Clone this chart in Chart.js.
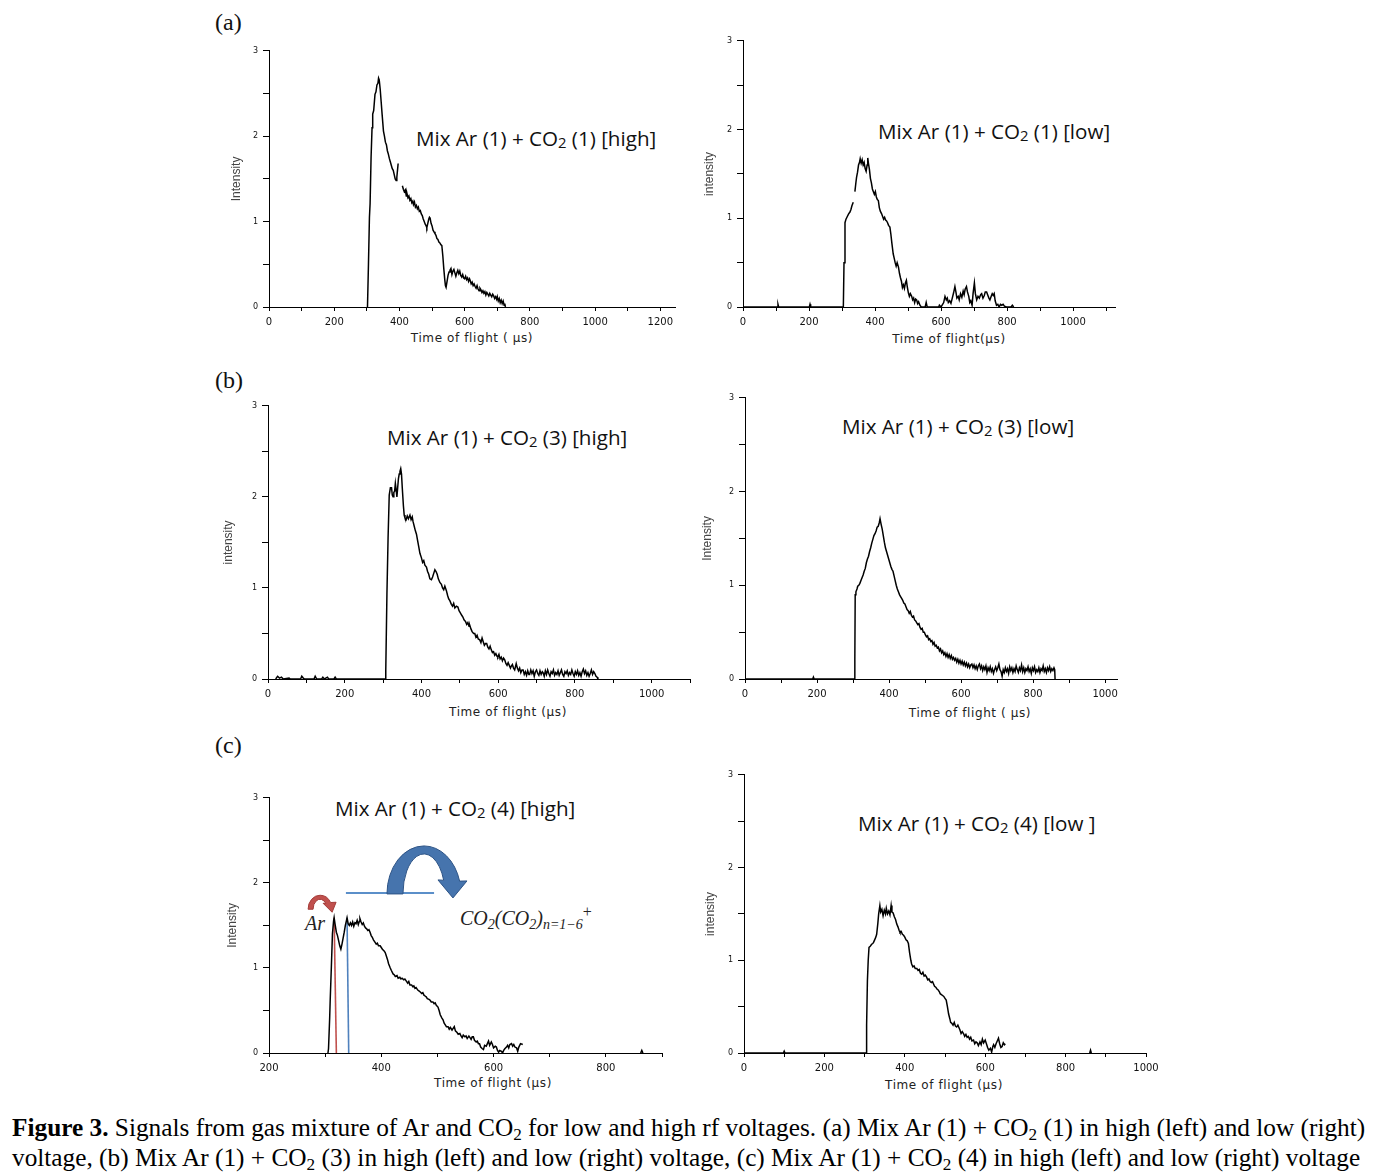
<!DOCTYPE html>
<html>
<head>
<meta charset="utf-8">
<script src="https://cdn.jsdelivr.net/npm/chart.js@4.4.1/dist/chart.umd.min.js"></script>
<style>
  body { margin: 0; background: #fff; }
  #page { position: relative; width: 1383px; height: 1176px; overflow: hidden; background: #fff; }
  .box { position: absolute; overflow: hidden; }
  .t { position: absolute; white-space: nowrap; line-height: 1; color: #111; }
  .mix { font-family: "Open Sans", "Noto Sans", sans-serif; font-size: 20.6px; }
  .mix sub { font-size: 0.72em; vertical-align: -0.15em; }
  .xt { font-family: "DejaVu Sans", sans-serif; font-size: 12px; color: #222; transform: translate(-50%, -50%); letter-spacing: 0.6px; }
  .lab { font-family: "Liberation Serif", serif; font-size: 24px; }
  .cap { font-family: "Liberation Serif", serif; font-size: 25.3px; color: #000; }
  .cap sub { font-size: 0.68em; vertical-align: -0.25em; }
  .math { font-family: "Liberation Serif", serif; font-style: italic; font-size: 20px; color: #222; }
  .math sub { font-size: 0.7em; vertical-align: -0.3em; }
  .math sup { font-size: 0.8em; font-style: normal; }
</style>
</head>
<body>
<div id="page">
  <div class="t lab" style="left:215px;top:10px;">(a)</div>
  <div class="t lab" style="left:215px;top:368px;">(b)</div>
  <div class="t lab" style="left:215px;top:733px;">(c)</div>

  <div class="t mix" style="left:416px;top:128px;">Mix Ar (1) + CO<sub>2</sub> (1) [high]</div>
  <div class="t mix" style="left:878px;top:121px;">Mix Ar (1) + CO<sub>2</sub> (1) [low]</div>
  <div class="t mix" style="left:387px;top:427px;">Mix Ar (1) + CO<sub>2</sub> (3) [high]</div>
  <div class="t mix" style="left:842px;top:416px;">Mix Ar (1) + CO<sub>2</sub> (3) [low]</div>
  <div class="t mix" style="left:335px;top:798px;">Mix Ar (1) + CO<sub>2</sub> (4) [high]</div>
  <div class="t mix" style="left:858px;top:813px;">Mix Ar (1) + CO<sub>2</sub> (4) [low ]</div>

  <div class="t xt" style="left:472px;top:338px;">Time of flight ( μs)</div>
  <div class="t xt" style="left:949px;top:339px;">Time of flight(μs)</div>
  <div class="t xt" style="left:508px;top:712px;">Time of flight (μs)</div>
  <div class="t xt" style="left:970px;top:713px;">Time of flight ( μs)</div>
  <div class="t xt" style="left:493px;top:1083px;">Time of flight (μs)</div>
  <div class="t xt" style="left:944px;top:1085px;">Time of flight (μs)</div>

  <div class="t math" style="left:305px;top:913px;">Ar</div>
  <div class="t math" style="left:460px;top:904px;">CO<sub>2</sub>(CO<sub>2</sub>)<sub>n=1−6</sub><sup>+</sup></div>

  <div class="t cap" style="left:12px;top:1115px;"><b>Figure 3.</b> Signals from gas mixture of Ar and CO<sub>2</sub> for low and high rf voltages. (a) Mix Ar (1) + CO<sub>2</sub> (1) in high (left) and low (right)</div>
  <div class="t cap" style="left:12px;top:1145px;">voltage, (b) Mix Ar (1) + CO<sub>2</sub> (3) in high (left) and low (right) voltage, (c) Mix Ar (1) + CO<sub>2</sub> (4) in high (left) and low (right) voltage</div>
</div>

<script>
// tick setup
const xTickStep = 100;
const xLabelStep = 200;
const yTickStep = 0.5;
const yLabelValues = [0, 1, 2, 3];

// (a) Ar(1)+CO2(1) high  [time us, intensity]
const sigA_high = [[302,0],[305,0.5],[308,1.05],[310,1.21],[313,1.75],[316,2.1],[318,2.26],[321,2.3],[325,2.49],[328,2.52],[331,2.6],[334,2.62],[336,2.68],[338,2.66],[341,2.55],[344,2.4],[347,2.25],[351,2.06],[354,2.0],[357,1.93],[360,1.9],[363,1.83],[366,1.79],[369,1.74],[372,1.7],[375,1.66],[378,1.62],[381,1.6],[384,1.55],[387,1.5],[390,1.48],[392,1.52],[394,1.6],[396,1.68],[400,null],
  [409,1.42],[412,1.38],[415,1.35],[418,1.37],[421,1.3],[423,1.33],[426,1.28],[429,1.3],[432,1.25],[435,1.27],[438,1.22],[441,1.24],[443,1.2],[446,1.23],[449,1.17],[452,1.19],[455,1.15],[458,1.17],[461,1.12],[464,1.13],[467,1.09],[470,1.07],[473,1.03],[476,1.0],[479,0.97],[482,0.95],[484,0.93],[487,0.98],[490,1.03],[492,1.05],[494,1.04],[497,0.98],[500,0.95],[503,0.9],[506,0.88],[509,0.86],[512,0.84],[515,0.8],[518,0.79],[521,0.76],[524,0.75],[527,0.73],[530,0.72],[533,0.6],[536,0.45],[539,0.32],[541,0.25],[543,0.23],[546,0.3],[549,0.37],[552,0.41],[555,0.43],[558,0.45],[561,0.38],[564,0.42],[567,0.44],[570,0.4],[573,0.36],[576,0.4],[579,0.43],[582,0.39],[585,0.42],[588,0.37],[591,0.35],[594,0.38],[597,0.34],[600,0.33],[603,0.36],[606,0.32],[609,0.34],[612,0.3],[615,0.33],[617,0.31],[620,0.27],[623,0.29],[626,0.25],[629,0.27],[632,0.24],[635,0.22],[638,0.25],[641,0.21],[644,0.19],[647,0.22],[650,0.2],[653,0.17],[656,0.19],[659,0.16],[662,0.18],[665,0.14],[668,0.17],[671,0.15],[674,0.13],[677,0.16],[680,0.14],[683,0.12],[686,0.15],[689,0.13],[692,0.1],[695,0.12],[698,0.09],[700,0.12],[703,0.07],[706,0.1],[709,0.05],[712,0.08],[715,0.04],[718,0.07],[721,0.02],[723,0.04],[725,0]];

// (a) Ar(1)+CO2(1) low
const sigA_low = [[0,0],[104,0],[106,0.03],[108,0],[201,0],[203,0.03],[205,0],[304,0],[306,0.5],[309,0.95],[312,0.99],[316,1.02],[320,1.05],[324,1.07],[327,1.1],[330,1.14],[334,1.18],[336,null],[339,1.3],[342,1.4],[344,1.46],[347,1.52],[350,1.6],[353,1.63],[355,1.67],[358,1.62],[361,1.66],[364,1.6],[367,1.63],[370,1.56],[373,1.53],[376,1.6],[378,1.68],[380,1.62],[383,1.55],[386,1.45],[389,1.4],[392,1.33],[395,1.3],[398,1.27],[401,1.3],[404,1.24],[407,1.21],[410,1.2],[413,1.12],[416,1.08],[420,1.05],[423,1.02],[426,0.99],[429,1.01],[432,0.98],[435,0.97],[438,0.95],[441,0.92],[445,0.9],[448,0.82],[451,0.72],[455,0.6],[458,0.55],[461,0.5],[464,0.46],[467,0.5],[471,0.45],[474,0.38],[477,0.33],[480,0.29],[483,0.22],[486,0.25],[489,0.21],[492,0.27],[495,0.3],[498,0.22],[501,0.16],[504,0.12],[507,0.15],[511,0.12],[514,0.08],[517,0.1],[520,0.05],[523,0.09],[526,0.08],[529,0.04],[532,0.06],[536,0.02],[540,0],[552,0],[555,0.05],[558,0],[593,0],[595,0.02],[600,0],[608,0.05],[612,0.12],[616,0.08],[619,0.1],[622,0.05],[626,0.07],[630,0.04],[634,0.1],[638,0.16],[642,0.23],[645,0.17],[648,0.1],[652,0.12],[655,0.08],[659,0.15],[663,0.11],[667,0.18],[670,0.14],[673,0.2],[677,0.23],[680,0.17],[684,0.12],[687,0.05],[690,0.07],[694,0.02],[697,0.15],[701,0.27],[704,0.15],[708,0.08],[712,0.12],[716,0.1],[720,0.14],[723,0.15],[727,0.1],[731,0.13],[734,0.17],[738,0.17],[742,0.13],[745,0.1],[748,0.08],[752,0.12],[755,0.15],[758,0.13],[761,0.15],[764,0.07],[768,0.02],[772,0.03],[776,0],[780,0.03],[784,0.02],[788,0.03],[792,0.01],[798,0],[812,0],[816,0.02],[820,0]];

// (b) Ar(1)+CO2(3) high
const sigB_high = [[20,0],[25,0.03],[30,0.01],[35,0.02],[40,0],[55,0.01],[58,0],[85,0],[88,0.03],[92,0.01],[95,0],[120,0],[123,0.03],[127,0],[140,0],[143,0.02],[147,0],[155,0.02],[158,0],[172,0],[175,0.02],[178,0],[305,0],[307,0.1],[310,0.93],[313,1.55],[316,2.02],[319,2.1],[322,2.1],[324,2.02],[326,2.0],[328,2.05],[330,2.06],[332,2.15],[334,2.08],[336,2.0],[338,2.1],[340,2.2],[342,2.25],[344,2.28],[346,2.31],[348,2.25],[350,2.1],[353,1.9],[355,1.8],[357,1.77],[360,1.75],[363,1.79],[366,1.76],[370,1.8],[373,1.75],[376,1.78],[378,1.73],[381,1.68],[384,1.63],[387,1.59],[390,1.52],[393,1.45],[396,1.38],[400,1.33],[403,1.28],[406,1.3],[409,1.25],[413,1.23],[416,1.18],[419,1.15],[422,1.1],[426,1.09],[429,1.12],[432,1.16],[435,1.2],[438,1.18],[441,1.15],[444,1.1],[448,1.06],[452,1.04],[455,1.0],[458,0.98],[461,1.02],[465,0.97],[468,0.92],[471,0.88],[474,0.86],[478,0.82],[481,0.8],[484,0.83],[487,0.78],[491,0.8],[495,0.79],[498,0.75],[501,0.73],[505,0.7],[508,0.68],[511,0.65],[515,0.63],[518,0.6],[521,0.62],[524,0.58],[526,0.59],[529,0.55],[532,0.52],[536,0.5],[539,0.5],[542,0.46],[545,0.48],[548,0.44],[552,0.43],[555,0.4],[558,0.45],[561,0.41],[564,0.37],[567,0.39],[570,0.39],[573,0.35],[576,0.33],[579,0.36],[582,0.32],[585,0.29],[588,0.3],[591,0.26],[594,0.28],[597,0.25],[599,0.24],[602,0.27],[605,0.22],[608,0.24],[611,0.2],[614,0.23],[617,0.21],[620,0.17],[623,0.15],[626,0.18],[629,0.15],[632,0.12],[634,0.14],[637,0.16],[640,0.12],[643,0.1],[647,0.17],[650,0.12],[653,0.09],[656,0.12],[659,0.07],[662,0.1],[665,0.1],[668,0.05],[671,0.08],[674,0.04],[677,0.09],[680,0.05],[682,0.05],[685,0.1],[688,0.06],[691,0.09],[694,0.03],[697,0.08],[700,0.1],[703,0.06],[706,0.04],[709,0.09],[712,0.05],[715,0.08],[717,0.07],[720,0.03],[723,0.09],[726,0.05],[729,0.1],[732,0.06],[735,0.03],[738,0.08],[741,0.06],[744,0.1],[747,0.04],[750,0.07],[753,0.05],[756,0.09],[759,0.04],[762,0.07],[765,0.1],[768,0.05],[771,0.03],[774,0.08],[777,0.06],[780,0.09],[783,0.04],[786,0.07],[789,0.05],[792,0.1],[795,0.06],[798,0.03],[801,0.08],[804,0.05],[807,0.09],[810,0.04],[813,0.07],[816,0.03],[819,0.08],[822,0.11],[825,0.06],[828,0.09],[831,0.04],[834,0.07],[837,0.03],[840,0.06],[843,0.1],[846,0.05],[849,0.08],[852,0.06],[855,0.03],[858,0.02],[860,0]];

// (b) Ar(1)+CO2(3) low
const sigB_low = [[0,0],[188,0],[190,0.02],[192,0],[304,0],[305,0.2],[306,0.9],[308,0.93],[311,0.96],[313,0.99],[316,1.0],[319,1.02],[322,1.05],[325,1.08],[328,1.11],[331,1.15],[334,1.18],[337,1.24],[340,1.28],[343,1.31],[346,1.36],[349,1.4],[352,1.45],[355,1.49],[358,1.53],[361,1.55],[364,1.58],[367,1.62],[370,1.63],[373,1.67],[375,1.71],[378,1.65],[381,1.6],[384,1.53],[387,1.46],[390,1.4],[393,1.36],[396,1.32],[399,1.28],[402,1.24],[405,1.2],[408,1.17],[411,1.15],[414,1.1],[417,1.05],[420,1.0],[423,0.96],[426,0.93],[429,0.9],[432,0.88],[435,0.86],[438,0.84],[441,0.81],[444,0.8],[447,0.77],[450,0.74],[453,0.73],[456,0.7],[459,0.72],[462,0.68],[465,0.66],[468,0.67],[471,0.63],[474,0.62],[477,0.6],[480,0.58],[483,0.59],[486,0.55],[489,0.53],[492,0.54],[495,0.5],[498,0.5],[501,0.47],[504,0.45],[507,0.46],[510,0.42],[513,0.43],[516,0.4],[519,0.41],[522,0.37],[525,0.39],[528,0.35],[531,0.36],[534,0.33],[537,0.34],[540,0.3],[543,0.32],[546,0.28],[549,0.3],[552,0.26],[555,0.28],[558,0.24],[561,0.27],[564,0.23],[567,0.26],[570,0.22],[573,0.25],[576,0.21],[579,0.23],[582,0.2],[585,0.22],[588,0.18],[591,0.21],[594,0.17],[597,0.2],[600,0.16],[603,0.19],[606,0.15],[609,0.18],[612,0.14],[615,0.17],[618,0.13],[621,0.16],[624,0.12],[627,0.15],[630,0.16],[633,0.12],[636,0.15],[639,0.11],[642,0.14],[645,0.1],[648,0.14],[651,0.16],[654,0.11],[657,0.14],[660,0.09],[663,0.13],[666,0.1],[669,0.14],[672,0.07],[675,0.12],[678,0.09],[681,0.13],[684,0.08],[687,0.11],[690,0.06],[693,0.1],[696,0.13],[699,0.09],[702,0.12],[705,0.16],[708,0.1],[711,0.08],[714,0.03],[717,0.1],[720,0.07],[723,0.12],[726,0.08],[729,0.11],[732,0.06],[735,0.13],[738,0.09],[741,0.12],[744,0.07],[747,0.11],[750,0.08],[753,0.14],[756,0.1],[759,0.07],[762,0.12],[765,0.09],[768,0.15],[771,0.08],[774,0.12],[777,0.07],[780,0.11],[783,0.09],[786,0.13],[789,0.08],[792,0.11],[795,0.06],[798,0.12],[801,0.09],[804,0.13],[807,0.07],[810,0.1],[813,0.08],[816,0.12],[819,0.07],[822,0.11],[825,0.09],[828,0.14],[831,0.08],[834,0.11],[837,0.07],[840,0.12],[843,0.09],[846,0.13],[849,0.08],[852,0.11],[855,0.09],[858,0.12],[860,0.1],[861,0]];

// (c) Ar(1)+CO2(4) high
const sigC_high = [[305,0],[306,0.05],[308,0.4],[309,0.62],[311,1.0],[313,1.4],[315,1.55],[316,1.59],[318,1.5],[320,1.42],[322,1.38],[324,1.32],[326,1.26],[328,1.22],[330,1.28],[332,1.35],[334,1.42],[336,1.5],[338,1.56],[339,1.59],[341,1.52],[343,1.5],[345,1.53],[347,1.5],[349,1.54],[351,1.49],[353,1.53],[355,1.52],[357,1.56],[359,1.51],[361,1.55],[362,1.58],[364,1.54],[366,1.51],[368,1.53],[370,1.49],[372,1.47],[374,1.46],[376,1.44],[378,1.45],[380,1.42],[382,1.38],[384,1.36],[386,1.33],[389,1.3],[391,1.28],[393,1.29],[395,1.26],[398,1.26],[400,1.24],[402,1.22],[405,1.2],[407,1.18],[409,1.14],[411,1.1],[413,1.05],[416,1.0],[418,0.97],[421,0.93],[423,0.92],[425,0.9],[428,0.91],[430,0.88],[433,0.89],[435,0.87],[437,0.88],[440,0.86],[442,0.87],[444,0.85],[447,0.82],[449,0.84],[451,0.8],[454,0.8],[456,0.78],[458,0.79],[460,0.76],[462,0.77],[465,0.74],[467,0.73],[469,0.72],[472,0.7],[474,0.71],[476,0.68],[478,0.67],[480,0.66],[482,0.64],[485,0.63],[487,0.62],[489,0.6],[492,0.6],[494,0.58],[496,0.59],[498,0.56],[501,0.54],[503,0.5],[505,0.45],[508,0.41],[510,0.39],[512,0.35],[514,0.33],[516,0.31],[519,0.31],[521,0.28],[523,0.3],[526,0.27],[528,0.29],[530,0.31],[532,0.26],[535,0.24],[537,0.22],[540,0.23],[542,0.2],[544,0.18],[546,0.21],[549,0.19],[551,0.2],[553,0.17],[556,0.2],[558,0.18],[560,0.16],[562,0.19],[564,0.19],[566,0.15],[569,0.13],[571,0.14],[573,0.11],[575,0.11],[577,0.07],[580,0.05],[582,0.04],[584,0.09],[587,0.08],[589,0.11],[591,0.14],[593,0.09],[596,0.13],[598,0.1],[600,0.06],[603,0.08],[605,0.07],[607,0.03],[609,0.01],[611,0.03],[614,0.02],[616,0],[618,0.03],[620,0.05],[623,0.07],[625,0.09],[627,0.06],[629,0.1],[632,0.11],[634,0.08],[636,0.1],[638,0.07],[641,0.06],[643,0.02],[645,0.07],[648,0.11],[652,0.1],[655,null],[862,0],[864,0.03],[866,0]];
const arPeak = [[316,1.59],[320,0]];
const clusterPeak = [[339,1.59],[342,0]];
const clusterBar = [[337,1.88],[494,1.88]];
// arrow anchors (data coords)
const arArrowAt = [291, 1.69];
const clusterArrowAt = [476, 1.87];

// (c) Ar(1)+CO2(4) low
const sigC_low = [[0,0],[98,0],[100,0.02],[102,0],[304,0],[305,0.3],[307,0.78],[309,1.0],[311,1.14],[314,1.15],[317,1.17],[320,1.18],[322,1.19],[325,1.22],[328,1.25],[330,1.28],[333,1.4],[335,1.5],[338,1.59],[340,1.52],[343,1.55],[346,1.48],[349,1.54],[352,1.5],[354,1.56],[357,1.5],[360,1.53],[363,1.49],[366,1.59],[368,1.52],[371,1.51],[374,1.47],[377,1.44],[380,1.39],[383,1.36],[386,1.32],[388,1.3],[391,1.31],[394,1.28],[397,1.27],[400,1.25],[403,1.22],[406,1.21],[409,1.18],[412,1.08],[415,1.0],[417,0.96],[420,0.93],[423,0.94],[426,0.91],[430,0.91],[433,0.89],[436,0.9],[439,0.86],[442,0.85],[445,0.87],[448,0.83],[451,0.84],[454,0.82],[457,0.79],[460,0.8],[463,0.77],[466,0.76],[469,0.77],[471,0.75],[474,0.72],[477,0.71],[480,0.69],[483,0.68],[486,0.66],[488,0.64],[491,0.63],[494,0.62],[497,0.61],[500,0.59],[503,0.57],[506,0.5],[509,0.42],[512,0.37],[514,0.33],[517,0.32],[520,0.3],[523,0.33],[526,0.29],[529,0.28],[532,0.3],[534,0.28],[537,0.25],[540,0.21],[543,0.23],[546,0.21],[549,0.18],[552,0.2],[555,0.17],[558,0.18],[561,0.15],[564,0.17],[567,0.13],[571,0.14],[574,0.1],[577,0.12],[580,0.11],[583,0.08],[587,0.12],[590,0.09],[593,0.15],[596,0.11],[600,0.14],[603,0.1],[606,0.06],[609,0.03],[613,0.05],[616,0.01],[619,0.07],[621,0.09],[624,0.06],[627,0.1],[630,0.13],[633,0.16],[636,0.1],[639,0.06],[642,0.07],[645,0.11],[648,0.09],[650,0.1],[653,null],[860,0],[862,0.03],[864,0]];

const page = document.getElementById("page");

// curved arrows in panel (c), anchored on data coords
const arrowPlugin = {
  id: "arrows",
  afterDatasetsDraw(chart) {
    const ctx = chart.ctx, sx = chart.scales.x, sy = chart.scales.y;
    const drawArrow = (cx, cy, ro, ri, a0, a1, head, fill, edge) => {
      ctx.beginPath();
      ctx.ellipse(cx, cy, ro[0], ro[1], 0, Math.PI, 2 * Math.PI - a0);
      ctx.lineTo(cx + head[0], cy + head[1]);
      ctx.lineTo(cx + head[2], cy + head[3]);
      ctx.lineTo(cx + head[4], cy + head[5]);
      ctx.ellipse(cx, cy, ri[0], ri[1], 0, 2 * Math.PI - a1, Math.PI, true);
      ctx.closePath();
      ctx.fillStyle = fill;
      ctx.fill();
      ctx.strokeStyle = edge;
      ctx.lineWidth = 1;
      ctx.stroke();
    };
    ctx.save();
    drawArrow(sx.getPixelForValue(clusterArrowAt[0]), sy.getPixelForValue(clusterArrowAt[1]),
      [37, 48], [21, 40], 0.27, 0.35, [43, -13, 29, 4, 14, -14], "#4674ad", "#2e5486");
    drawArrow(sx.getPixelForValue(arArrowAt[0]), sy.getPixelForValue(arArrowAt[1]),
      [12, 14], [7, 10], 0.5, 0.6, [16, -7, 12, 3, 3, -6], "#c0504d", "#a33c39");
    ctx.restore();
  }
};

const black = (pts) => ({ pts, color: "#000", width: 1.5 });

const panels = [
  { L: 269, R: 675, T: 49, B: 307, xmin: 0, xmax: 1245, titleX: 237, yTitle: "Intensity", series: [black(sigA_high)] },
  { L: 743, R: 1115, T: 39, B: 307, xmin: 0, xmax: 1127, titleX: 710, yTitle: "intensity", series: [black(sigA_low)] },
  { L: 268, R: 690, T: 404, B: 679, xmin: 0, xmax: 1100, titleX: 229, yTitle: "intensity", series: [black(sigB_high)] },
  { L: 745, R: 1117, T: 396, B: 679, xmin: 0, xmax: 1033, titleX: 708, yTitle: "Intensity", series: [black(sigB_low)], clip: 1118 },
  { L: 269, R: 662, T: 796, B: 1053, xmin: 200, xmax: 900, titleX: 233, yTitle: "Intensity",
    series: [black(sigC_high),
      { pts: arPeak, color: "#c0504d", width: 1.6 },
      { pts: clusterPeak, color: "#4f81bd", width: 1.6 },
      { pts: clusterBar, color: "#5b8fc9", width: 2 }],
    extra: arrowPlugin },
  { L: 744, R: 1146, T: 773, B: 1053, xmin: 0, xmax: 1000, titleX: 711, yTitle: "intensity", series: [black(sigC_low)] }
];

panels.forEach((p) => {
  const left = p.titleX - 8, top = p.T - 8;
  const w = p.R - left + 22, h = p.B - top + 28;
  const holder = document.createElement("div");
  holder.className = "box";
  holder.style.left = left + "px";
  holder.style.top = top + "px";
  holder.style.width = (p.clip ? p.clip - left : w) + "px";
  holder.style.height = h + "px";
  const cv = document.createElement("canvas");
  cv.width = w;
  cv.height = h;
  holder.appendChild(cv);
  page.appendChild(holder);

  const datasets = p.series.map((s) => ({
    data: s.pts.map((q) => ({ x: q[0], y: q[1] })),
    borderColor: s.color,
    borderWidth: s.width,
    pointRadius: 0,
    fill: false,
    tension: 0,
    spanGaps: false
  }));

  new Chart(cv.getContext("2d"), {
    type: "line",
    data: { datasets },
    options: {
      responsive: false,
      animation: false,
      events: [],
      layout: { padding: { top: 8, right: 22, left: 0, bottom: 0 } },
      plugins: { legend: { display: false }, tooltip: { enabled: false } },
      scales: {
        x: {
          type: "linear",
          min: p.xmin,
          max: p.xmax,
          afterFit: (s) => { s.height = 28; },
          afterBuildTicks: (s) => {
            const t = [];
            for (let v = p.xmin; v <= p.xmax; v += xTickStep) t.push({ value: v });
            s.ticks = t;
          },
          border: { display: true, color: "#000", width: 1 },
          grid: { drawOnChartArea: false, color: "#000", tickLength: 4 },
          ticks: {
            autoSkip: false, maxRotation: 0, padding: 5, color: "#111",
            font: { family: "DejaVu Sans", size: 10 },
            callback: (v) => (v % xLabelStep === 0 ? String(v) : "")
          }
        },
        y: {
          min: 0,
          max: 3,
          afterFit: (s) => { s.width = p.L - left; },
          afterBuildTicks: (s) => {
            const t = [];
            for (let v = 0; v <= 3.001; v += yTickStep) t.push({ value: v });
            s.ticks = t;
          },
          border: { display: true, color: "#000", width: 1 },
          grid: { drawOnChartArea: false, color: "#000", tickLength: 6 },
          title: {
            display: true, text: p.yTitle, padding: 0, color: "#444",
            font: { family: "Liberation Sans Narrow, Liberation Sans", size: 12 }
          },
          ticks: {
            padding: 5, color: "#111",
            font: { family: "DejaVu Sans", size: 8 },
            callback: (v) => (yLabelValues.includes(v) ? String(v) : "")
          }
        }
      }
    },
    plugins: p.extra ? [p.extra] : []
  });
});
</script>
</body>
</html>
